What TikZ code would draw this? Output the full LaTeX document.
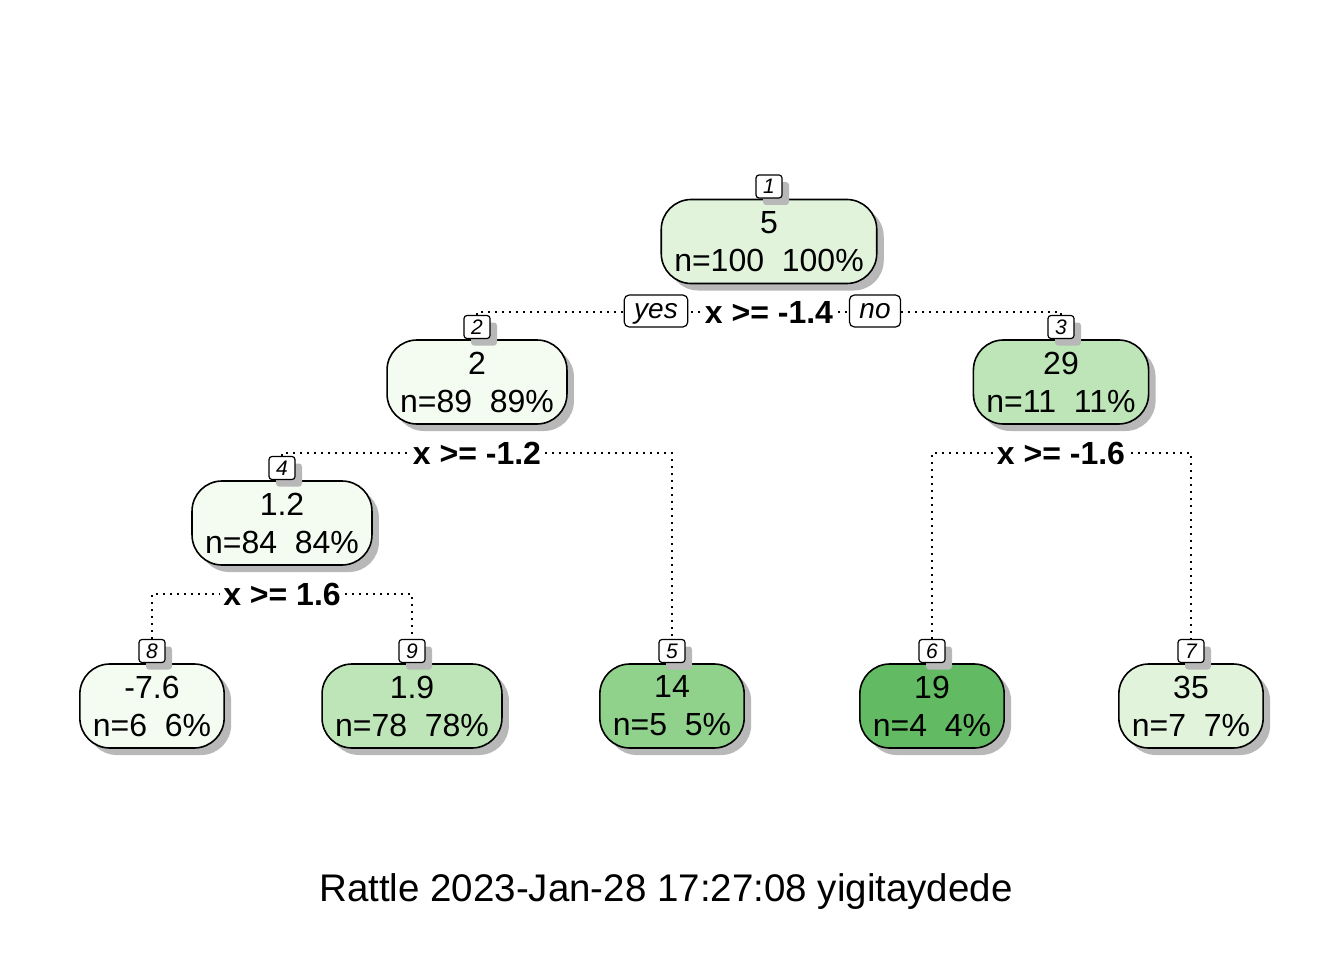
\documentclass[tikz,border=0pt]{standalone}
\usepackage{fontspec}
\setmainfont{Liberation Sans}
\usetikzlibrary{shadows,backgrounds}

\definecolor{gA}{HTML}{F4FBF1}
\definecolor{gB}{HTML}{E1F3DB}
\definecolor{gC}{HTML}{BDE5B7}
\definecolor{gD}{HTML}{90D18C}
\definecolor{gE}{HTML}{62BB62}

\tikzset{
  shade/.style={drop shadow={shadow xshift=7pt, shadow yshift=-7pt, fill=black!28, opacity=1}},
  leaf/.style={draw=black, line width=1.6pt, rounded corners=30pt, inner xsep=13pt, inner ysep=0pt,
    minimum height=84pt, align=center, font=\fontsize{32}{38}\selectfont, shade},
  numbox/.style={draw=black, fill=white, line width=1.2pt, rounded corners=3pt, minimum width=26pt,
    minimum height=23pt, inner sep=0pt, font=\fontsize{21}{21}\selectfont\itshape, shade},
  split/.style={fill=white, inner xsep=3pt, inner ysep=1pt, font=\fontsize{32}{32}\selectfont\bfseries},
  yesno/.style={draw=black, fill=white, line width=1.2pt, rounded corners=5pt, minimum height=32pt,
    inner xsep=10pt, inner ysep=0pt, text depth=0pt, font=\fontsize{28}{28}\selectfont\itshape},
  tree/.style={line width=1.6pt, dash pattern=on 1.6pt off 5.4pt}
}

\begin{document}
\begin{tikzpicture}[x=1pt, y=-1pt]
    \useasboundingbox (0,0) rectangle (1344,960);

    % inner nodes
    \node[leaf, fill=gB] (n1) at (769,241.5) {5\\n=100\ \ 100\%};
    \node[numbox] (n1lab) at (769,186.5) {1};
    \node[leaf, fill=gA] (n2) at (477,382) {2\\n=89\ \ 89\%};
    \node[numbox] (n2lab) at (477,327) {2};
    \node[leaf, fill=gC] (n3) at (1061,382) {29\\n=11\ \ 11\%};
    \node[numbox] (n3lab) at (1061,327) {3};
    \node[leaf, fill=gA] (n4) at (282,523) {1.2\\n=84\ \ 84\%};
    \node[numbox] (n4lab) at (282,468) {4};

    % leaves
    \node[leaf, fill=gA] (n8) at (152,706) {-7.6\\n=6\ \ 6\%};
    \node[numbox] (n8lab) at (152,651) {8};
    \node[leaf, fill=gC] (n9) at (412,706) {1.9\\n=78\ \ 78\%};
    \node[numbox] (n9lab) at (412,651) {9};
    \node[leaf, fill=gD] (n5) at (672,706) {14\\n=5\ \ 5\%};
    \node[numbox] (n5lab) at (672,651) {5};
    \node[leaf, fill=gE] (n6) at (932,706) {19\\n=4\ \ 4\%};
    \node[numbox] (n6lab) at (932,651) {6};
    \node[leaf, fill=gB] (n7) at (1191,706) {35\\n=7\ \ 7\%};
    \node[numbox] (n7lab) at (1191,651) {7};

    % split labels
    \node[split] (s1) at (769,312) {x >= -1.4};
    \node[yesno] (yes) at (656,311) {yes};
    \node[yesno] (no) at (875,311) {no};
    \node[split] (s2) at (477,453) {x >= -1.2};
    \node[split] (s3) at (1061,453) {x >= -1.6};
    \node[split] (s4) at (282,594) {x >= 1.6};

    % branches
    \begin{scope}[on background layer]
        \draw[tree] (n2lab.north) |- (s1.center) -| (n3lab.north);
        \draw[tree] (n4lab.north) |- (s2.center) -| (n5lab.north);
        \draw[tree] (n6lab.north) |- (s3.center) -| (n7lab.north);
        \draw[tree] (n8lab.north) |- (s4.center) -| (n9lab.north);
    \end{scope}

    \node[font=\fontsize{38.5}{38.5}\selectfont] (title) at (666,892) {Rattle 2023-Jan-28 17:27:08 yigitaydede};
\end{tikzpicture}
\end{document}
